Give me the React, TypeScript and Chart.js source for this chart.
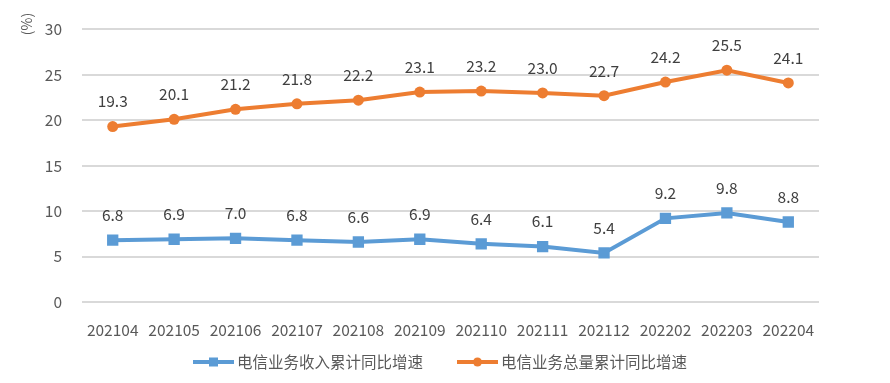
import React, { useEffect, useRef } from "react";
import { Chart, registerables } from "chart.js";

Chart.register(...registerables);

const categories = ["202104", "202105", "202106", "202107", "202108", "202109", "202110", "202111", "202112", "202202", "202203", "202204"];
const revenueGrowth = [6.8, 6.9, 7.0, 6.8, 6.6, 6.9, 6.4, 6.1, 5.4, 9.2, 9.8, 8.8];
const volumeGrowth = [19.3, 20.1, 21.2, 21.8, 22.2, 23.1, 23.2, 23.0, 22.7, 24.2, 25.5, 24.1];
const seriesNames = ["电信业务收入累计同比增速", "电信业务总量累计同比增速"];
const yUnit = "(%)";

const BLUE = "#5b9bd5";
const ORANGE = "#ed7d31";
const FONT = "'Noto Sans CJK SC', 'Noto Sans', sans-serif";

const extrasPlugin = {
  id: "extras",
  afterDatasetsDraw(chart: any) {
    const ctx = chart.ctx;
    ctx.save();
    // data labels
    chart.data.datasets.forEach((ds: any, i: number) => {
      const meta = chart.getDatasetMeta(i);
      meta.data.forEach((pt: any, j: number) => {
        ctx.font = `15.5px ${FONT}`;
        ctx.fillStyle = "#404040";
        ctx.textAlign = "center";
        ctx.textBaseline = "middle";
        ctx.fillText(Number(ds.data[j]).toFixed(1), pt.x, pt.y - 25);
      });
    });
    // unit label
    ctx.save();
    ctx.translate(27, 24);
    ctx.rotate(-Math.PI / 2);
    ctx.font = `14px ${FONT}`;
    ctx.fillStyle = "#595959";
    ctx.textAlign = "center";
    ctx.textBaseline = "middle";
    ctx.fillText(yUnit, 0, 0);
    ctx.restore();
    // legend
    const items = [
      { x: 193, color: BLUE, shape: "rect", label: seriesNames[0] },
      { x: 457, color: ORANGE, shape: "circle", label: seriesNames[1] },
    ];
    const ly = 362;
    items.forEach((it) => {
      ctx.strokeStyle = it.color;
      ctx.lineWidth = 4;
      ctx.beginPath();
      ctx.moveTo(it.x, ly);
      ctx.lineTo(it.x + 41, ly);
      ctx.stroke();
      ctx.fillStyle = it.color;
      if (it.shape === "rect") {
        ctx.fillRect(it.x + 20.5 - 4.5, ly - 4.5, 9, 9);
      } else {
        ctx.beginPath();
        ctx.arc(it.x + 20.5, ly, 4.5, 0, Math.PI * 2);
        ctx.fill();
      }
      ctx.font = `15.5px ${FONT}`;
      ctx.fillStyle = "#595959";
      ctx.textAlign = "left";
      ctx.textBaseline = "middle";
      ctx.fillText(it.label, it.x + 44, ly);
    });
    ctx.restore();
  },
};

export default function App() {
  const ref = useRef<HTMLCanvasElement>(null);
  useEffect(() => {
    if (!ref.current) return;
    const chart = new Chart(ref.current, {
      type: "line",
      data: {
        labels: categories,
        datasets: [
          {
            label: seriesNames[0],
            data: revenueGrowth,
            borderColor: BLUE,
            backgroundColor: BLUE,
            borderWidth: 4,
            pointStyle: "rect",
            pointRadius: 8,
            pointBorderWidth: 0,
            tension: 0,
          },
          {
            label: seriesNames[1],
            data: volumeGrowth,
            borderColor: ORANGE,
            backgroundColor: ORANGE,
            borderWidth: 4,
            pointStyle: "circle",
            pointRadius: 5.5,
            pointBorderWidth: 0,
            tension: 0,
          },
        ],
      },
      options: {
        animation: false,
        responsive: false,
        maintainAspectRatio: false,
        layout: { padding: { left: 0, right: 71, top: 28, bottom: 0 } },
        plugins: { legend: { display: false }, tooltip: { enabled: false } },
        scales: {
          x: {
            offset: true,
            grid: { display: false },
            border: { display: false },
            ticks: { color: "#595959", font: { size: 15.5, family: FONT }, padding: 11, maxRotation: 0 },
            afterFit: (s: any) => { s.height = 81; },
          },
          y: {
            min: 0,
            max: 30,
            ticks: { stepSize: 5, color: "#595959", font: { size: 15.5, family: FONT }, padding: 20 },
            grid: { color: "#d9d9d9", lineWidth: 2, drawTicks: false },
            border: { display: false },
            afterFit: (s: any) => { s.width = 82; },
          },
        },
      },
      plugins: [extrasPlugin],
    });
    return () => chart.destroy();
  }, []);
  return (
    <div style={{ position: "fixed", left: 0, top: 0, width: 890, height: 383, background: "#fff" }}>
      <canvas ref={ref} width={890} height={383} style={{ width: 890, height: 383 }} />
    </div>
  );
}
